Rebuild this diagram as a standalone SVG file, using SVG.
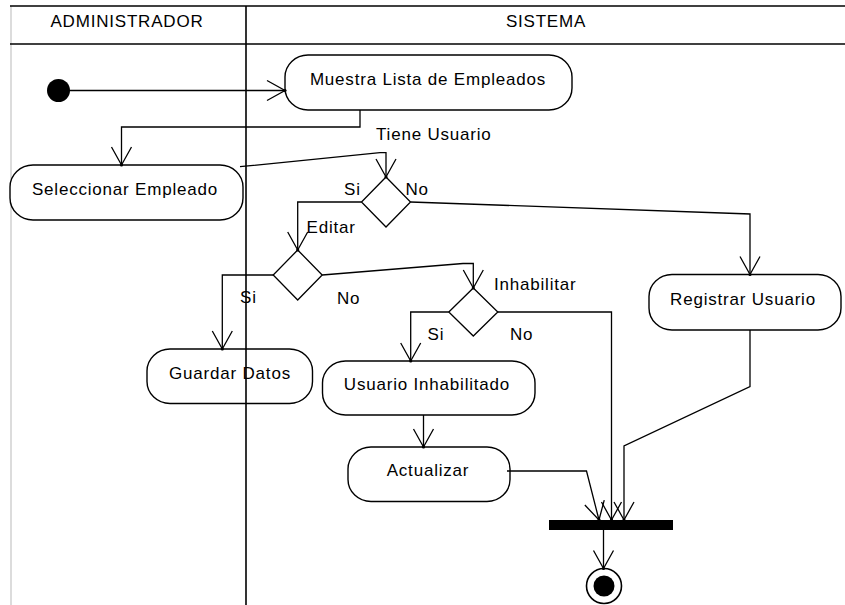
<svg xmlns="http://www.w3.org/2000/svg" width="845" height="605" viewBox="0 0 845 605">
  <style>
    .lane { stroke: #000; stroke-width: 1.6; fill: none; }
    .edge { stroke: #000; stroke-width: 1.3; fill: none; marker-end: url(#open); }
    .act { fill: #fff; stroke: #000; stroke-width: 1.4; }
    .dec { fill: #fff; stroke: #000; stroke-width: 1.3; }
    text { font-family: "Liberation Sans", Arial, sans-serif; font-size: 17px; letter-spacing: 0.8px; fill: #000; }
    .c { text-anchor: middle; }
  </style>
  <defs>
    <marker id="open" markerUnits="userSpaceOnUse" viewBox="-20 -12 22 24" markerWidth="22" markerHeight="24" refX="0" refY="0" orient="auto" overflow="visible">
      <path d="M -18 -10 L 0 0 L -18 10" fill="none" stroke="#000" stroke-width="1.3"/>
      <circle cx="0" cy="0" r="1.6" fill="#000"/>
    </marker>
  </defs>

  <rect width="845" height="605" fill="#fff"/>

  <!-- swimlane frame -->
  <g id="frame">
    <line x1="11" y1="6" x2="11" y2="605" stroke="#d0d0d0" stroke-width="1.5"/>
    <line class="lane" x1="10" y1="6" x2="845" y2="6"/>
    <line class="lane" x1="10" y1="44" x2="845" y2="44"/>
    <text class="c" x="127" y="27">ADMINISTRADOR</text>
    <text class="c" x="546" y="27">SISTEMA</text>
  </g>

  <!-- activity nodes -->
  <g id="start">
    <circle cx="58.5" cy="90.5" r="11.5" fill="#000"/>
  </g>
  <g id="muestra">
    <rect class="act" x="285" y="55" width="287" height="55" rx="23" ry="22"/>
    <text class="c" x="428" y="85">Muestra Lista de Empleados</text>
  </g>
  <g id="seleccionar">
    <rect class="act" x="10" y="165" width="233" height="55" rx="23" ry="22"/>
    <text class="c" x="125" y="195">Seleccionar Empleado</text>
  </g>
  <g id="d-tiene-usuario">
    <polygon class="dec" points="386,177 410.5,202 386,227 361.5,202"/>
  </g>
  <g id="d-editar">
    <polygon class="dec" points="297.7,250 322.2,275 297.7,300 273.2,275"/>
  </g>
  <g id="d-inhabilitar">
    <polygon class="dec" points="473.3,288 497.8,312 473.3,336 448.8,312"/>
  </g>
  <g id="registrar">
    <rect class="act" x="649" y="274.5" width="192" height="55.5" rx="23" ry="22"/>
    <text class="c" x="743" y="305">Registrar Usuario</text>
  </g>
  <g id="guardar">
    <rect class="act" x="147" y="349" width="165.5" height="54.5" rx="23" ry="22"/>
    <text class="c" x="230" y="379">Guardar Datos</text>
  </g>
  <g id="inhabilitado">
    <rect class="act" x="322.5" y="361" width="212.5" height="54" rx="23" ry="22"/>
    <text class="c" x="427" y="390">Usuario Inhabilitado</text>
  </g>
  <g id="actualizar">
    <rect class="act" x="348" y="447" width="162" height="54.5" rx="23" ry="22"/>
    <text class="c" x="428" y="476">Actualizar</text>
  </g>
  <g id="join">
    <rect x="549" y="520" width="124" height="10" fill="#000"/>
  </g>
  <g id="final">
    <circle cx="604" cy="586" r="17.5" fill="#fff" stroke="#000" stroke-width="1.6"/>
    <circle cx="604" cy="586" r="10.5" fill="#000"/>
  </g>

  <!-- control flows -->
  <g id="connectors">
    <path class="edge" d="M 69 90.5 L 285 90.5"/>
    <path class="edge" d="M 360 110 L 360 127 L 121.5 127 L 121.5 165"/>
    <path class="edge" d="M 240 166.7 L 380 152.7 L 386 152.7 L 386 177"/>
    <path class="edge" d="M 361.5 202 L 297.7 202 L 297.7 250"/>
    <path class="edge" d="M 410.5 202 L 750 214 L 750 274.5"/>
    <path class="edge" d="M 273.2 275 L 222.3 275 L 222.3 349"/>
    <path class="edge" d="M 322.2 275 L 463 263.5 L 473.3 263.5 L 473.3 288"/>
    <path class="edge" d="M 448.8 312 L 410.7 312 L 410.7 361"/>
    <path class="edge" d="M 497.8 312 L 611.5 312 L 611.5 520"/>
    <path class="edge" d="M 423.5 415 L 423.5 447"/>
    <path class="edge" d="M 507 471 L 586.5 471 L 599 520"/>
    <path class="edge" d="M 750 330 L 750 386.5 L 624 446 L 624 520"/>
    <path class="edge" d="M 603.5 530 L 603.5 568.5"/>
  </g>

  <!-- guard and flow labels -->
  <g id="labels">
    <text x="376" y="140">Tiene Usuario</text>
    <text x="344" y="195">Si</text>
    <text x="405.5" y="195">No</text>
    <text x="306.5" y="233">Editar</text>
    <text x="240" y="303">Si</text>
    <text x="337" y="304">No</text>
    <text x="494" y="290">Inhabilitar</text>
    <text x="427.5" y="340">Si</text>
    <text x="510" y="340">No</text>
  </g>

  <!-- lane divider runs over everything it crosses -->
  <line class="lane" x1="246" y1="6" x2="246" y2="605"/>
</svg>
